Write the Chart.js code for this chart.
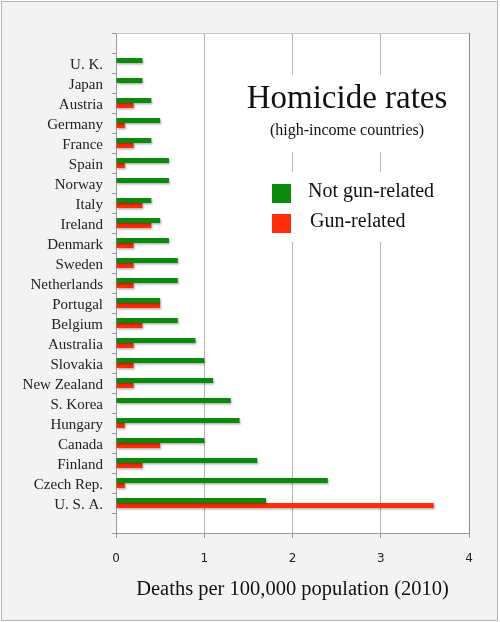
<!DOCTYPE html>
<html>
<head>
<meta charset="utf-8">
<script src="https://cdn.jsdelivr.net/npm/chart.js@4.4.0/dist/chart.umd.min.js"></script>
<style>
  html, body { margin: 0; padding: 0; background: #fff; }
  #wrap { position: relative; width: 500px; height: 622px; }
  #frame { position: absolute; left: 1px; top: 1px; width: 495px; height: 618px; border: 1px solid #b4b4b4; background: #f3f3f3; }
  #chart { position: absolute; left: 0; top: 0; }
</style>
</head>
<body>
<div id="wrap">
  <div id="frame"></div>
  <canvas id="chart" width="500" height="622"></canvas>
</div>
<script>
// data (blank slots at both ends like the original)
const countries = ["", "U. K.", "Japan", "Austria", "Germany", "France", "Spain", "Norway", "Italy", "Ireland",
  "Denmark", "Sweden", "Netherlands", "Portugal", "Belgium", "Australia", "Slovakia", "New Zealand",
  "S. Korea", "Hungary", "Canada", "Finland", "Czech Rep.", "U. S. A.", ""];
const notGunRelated = [null, 0.3, 0.3, 0.4, 0.5, 0.4, 0.6, 0.6, 0.4, 0.5,
  0.6, 0.7, 0.7, 0.5, 0.7, 0.9, 1.0, 1.1,
  1.3, 1.4, 1.0, 1.6, 2.4, 1.7, null];
const gunRelated = [null, 0, 0, 0.2, 0.1, 0.2, 0.1, 0, 0.3, 0.4,
  0.2, 0.2, 0.2, 0.5, 0.3, 0.2, 0.2, 0.2,
  0, 0.1, 0.5, 0.3, 0.1, 3.6, null];
const xTicks = [0, 1, 2, 3, 4];
const seriesNames = ["Not gun-related", "Gun-related"];
const seriesColors = ["#0a8a0a", "#ff2d0a"];
const chartTitle = "Homicide rates";
const chartSubtitle = "(high-income countries)";
const axisTitle = "Deaths per 100,000 population (2010)";

const SERIF = "'Liberation Serif', 'Times New Roman', serif";

// white plot background, title + legend drawn inside the plot
const overlay = {
  id: "overlay",
  beforeDraw(chart) {
    const { ctx, chartArea: a } = chart;
    ctx.save();
    ctx.fillStyle = "#fff";
    ctx.fillRect(a.left, a.top, a.right - a.left, a.bottom - a.top);
    ctx.restore();
  },
  beforeDatasetsDraw(chart) {
    const { ctx, chartArea: a } = chart;
    ctx.save();
    ctx.strokeStyle = "#c8c8c8";
    ctx.lineWidth = 1;
    ctx.beginPath();
    ctx.moveTo(a.left, a.top + 0.5);
    ctx.lineTo(a.right, a.top + 0.5);
    ctx.stroke();
    // blank out gridlines behind the title and the legend
    ctx.fillStyle = "#fff";
    ctx.fillRect(240, 75, 215, 77);
    ctx.fillRect(262, 172, 188, 70);
    ctx.restore();
    // soft drop shadow under the bars
    ctx.save();
    ctx.shadowColor = "rgba(0,0,0,0.3)";
    ctx.shadowOffsetX = 1;
    ctx.shadowOffsetY = 1.5;
    ctx.shadowBlur = 2;
  },
  afterDatasetsDraw(chart) {
    chart.ctx.restore();
  },
  afterDraw(chart) {
    const ctx = chart.ctx;
    ctx.save();
    ctx.fillStyle = "#111";
    ctx.textAlign = "center";
    ctx.textBaseline = "alphabetic";
    ctx.font = "33px " + SERIF;
    ctx.fillText(chartTitle, 347, 108);
    ctx.font = "16px " + SERIF;
    ctx.fillText(chartSubtitle, 347, 135);

    ctx.textAlign = "left";
    ctx.font = "20px " + SERIF;
    chart.data.datasets.forEach((ds, i) => {
      const y = 184 + i * 30;
      ctx.fillStyle = ds.backgroundColor;
      ctx.fillRect(272, y, 19, 19);
      ctx.fillStyle = "#111";
      ctx.fillText(ds.label, 308 + i * 2, y + 13);
    });
    ctx.restore();
  }
};

new Chart(document.getElementById("chart"), {
  type: "bar",
  data: {
    labels: countries,
    datasets: [
      { label: seriesNames[0], data: notGunRelated, backgroundColor: seriesColors[0] },
      { label: seriesNames[1], data: gunRelated, backgroundColor: seriesColors[1] }
    ]
  },
  options: {
    indexAxis: "y",
    responsive: false,
    animation: false,
    categoryPercentage: 0.5,
    barPercentage: 1.0,
    layout: { padding: { left: 0, top: 33, right: 31, bottom: 0 } },
    plugins: {
      legend: { display: false },
      tooltip: { enabled: false }
    },
    scales: {
      x: {
        min: 0,
        max: 4,
        afterBuildTicks: (s) => { s.ticks = xTicks.map((v) => ({ value: v })); },
        ticks: { font: { family: "DejaVu Sans", size: 12 }, color: "#222", padding: 14 },
        grid: {
          color: (c) => (c.tick && c.tick.value === 4 ? "#8a8a8a" : "#b4b4b4"),
          tickLength: 5,
          tickColor: "#999"
        },
        border: { color: "#999" },
        title: {
          display: true,
          text: axisTitle,
          font: { family: SERIF, size: 20.5 },
          color: "#111",
          padding: { top: 0, bottom: 20 }
        },
        afterFit: (s) => { s.height = 89; }
      },
      y: {
        ticks: { font: { family: SERIF, size: 15 }, color: "#222", padding: 9, labelOffset: 2, autoSkip: false },
        grid: { drawOnChartArea: false, tickLength: 4, color: "#999", offset: true },
        border: { color: "#999" },
        afterFit: (s) => { s.width = 116; }
      }
    }
  },
  plugins: [overlay]
});
</script>
</body>
</html>
